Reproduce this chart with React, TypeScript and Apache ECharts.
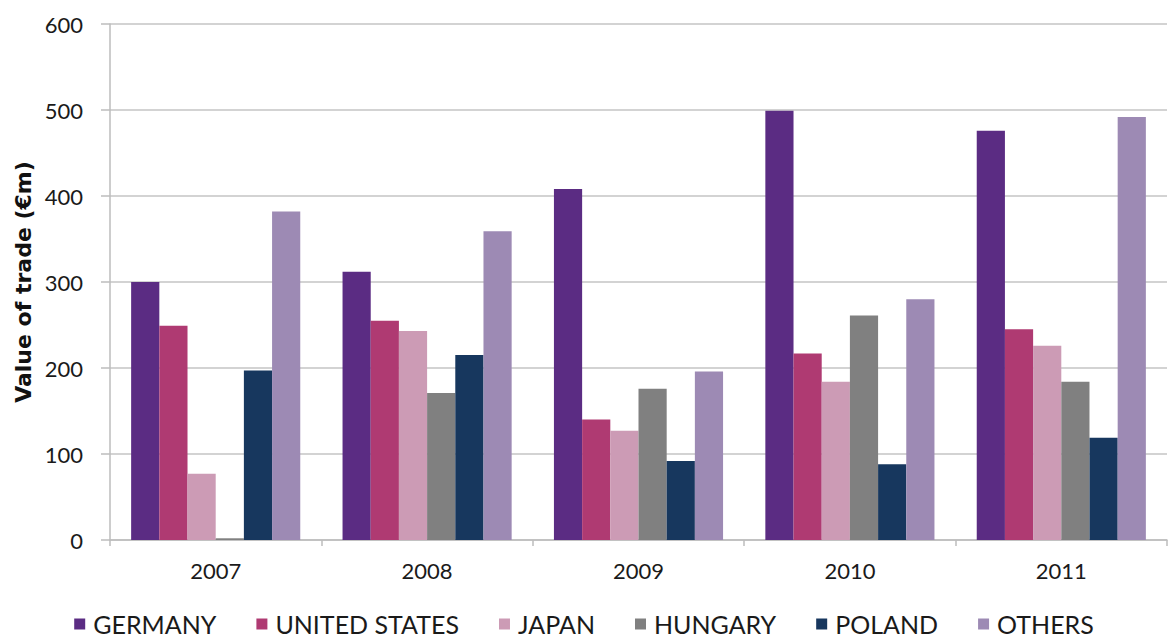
import React, { useEffect, useRef } from "react";
import * as echarts from "echarts";

const years = ["2007", "2008", "2009", "2010", "2011"];
const germany = [300, 312, 408, 499, 476];
const unitedStates = [249, 255, 140, 217, 245];
const japan = [77, 243, 127, 184, 226];
const hungary = [2, 171, 176, 261, 184];
const poland = [197, 215, 92, 88, 119];
const others = [382, 359, 196, 280, 492];

const seriesNames = ["GERMANY", "UNITED STATES", "JAPAN", "HUNGARY", "POLAND", "OTHERS"];
const seriesData = [germany, unitedStates, japan, hungary, poland, others];
const colors = ["#5B2C83", "#AF3A72", "#CC9BB5", "#808080", "#17375E", "#9D8AB4"];

const FONT = "Lato, 'Open Sans', sans-serif";

export default function App() {
  const ref = useRef<HTMLDivElement>(null);
  useEffect(() => {
    if (!ref.current) return;
    const chart = echarts.init(ref.current, null, { renderer: "svg" });
    chart.setOption({
      animation: false,
      backgroundColor: "#ffffff",
      color: colors,
      grid: { left: 110, right: 1, top: 24, bottom: 99, containLabel: false },
      legend: {
        top: 611,
        left: "center",
        padding: 0,
        itemWidth: 11,
        itemHeight: 11,
        itemGap: 40,
        icon: "rect",
        textStyle: {
          fontFamily: FONT,
          fontSize: 25,
          lineHeight: 26,
          color: "#1a1a1a",
          padding: [0, 0, 0, 3],
        },
        data: seriesNames,
      },
      xAxis: {
        type: "category",
        data: years,
        axisLine: { lineStyle: { color: "#BDBDBD", width: 1.5 } },
        axisTick: { show: true, length: 6, lineStyle: { color: "#BDBDBD", width: 1.5 } },
        axisLabel: { fontFamily: FONT, fontSize: 22, color: "#1a1a1a", margin: 19 },
      },
      yAxis: {
        type: "value",
        min: 0,
        max: 600,
        interval: 100,
        axisLine: { show: true, lineStyle: { color: "#BDBDBD", width: 1.5 } },
        axisTick: { show: true, length: 9, lineStyle: { color: "#BDBDBD", width: 1.5 } },
        axisLabel: { fontFamily: FONT, fontSize: 22, color: "#1a1a1a", margin: 27 },
        splitLine: { lineStyle: { color: "#C4C4C4", width: 1.5 } },
      },
      graphic: [
        {
          type: "text",
          x: 23,
          y: 282,
          rotation: Math.PI / 2,
          style: {
            text: "Value of trade (€m)",
            fontFamily: "'DejaVu Sans', 'Open Sans', sans-serif",
            fontSize: 22,
            fontWeight: "bold",
            fill: "#111",
            align: "center",
            verticalAlign: "middle",
          },
        },
      ],
      series: seriesNames.map((name, i) => ({
        name,
        type: "bar",
        data: seriesData[i],
        barGap: "0%",
        barCategoryGap: "20%",
        itemStyle: { color: colors[i] },
      })),
    });
    return () => chart.dispose();
  }, []);
  return (
    <div
      ref={ref}
      style={{ position: "fixed", left: 0, top: 0, width: 1168, height: 639 }}
    />
  );
}
